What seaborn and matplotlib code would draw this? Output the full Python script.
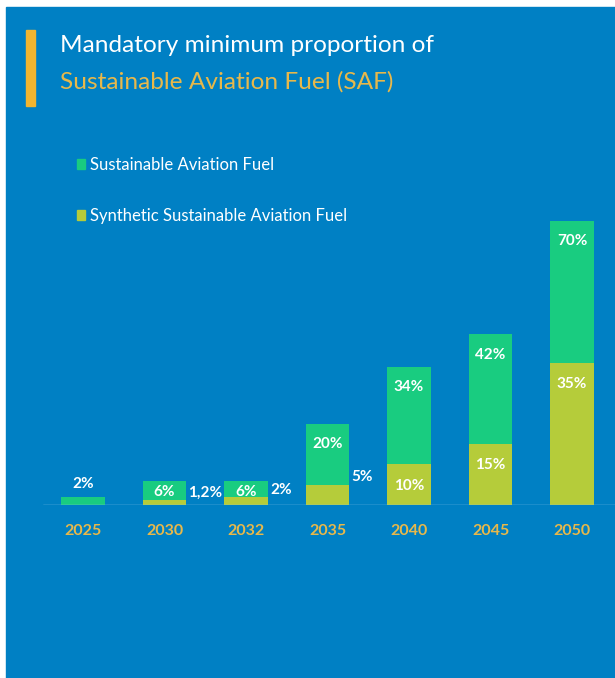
import matplotlib
matplotlib.use('Agg')
import matplotlib.pyplot as plt
import seaborn as sns
import pandas as pd
from matplotlib.patches import Rectangle, Patch

# data
years = ['2025', '2030', '2032', '2035', '2040', '2045', '2050']
saf_total = [2, 6, 6, 20, 34, 42, 70]
synthetic = [0, 1.2, 2, 5, 10, 15, 35]

bg = '#0080c4'
green = '#19cc80'
lime = '#b5cc3a'
gold = '#e8b84a'

sns.set_theme(style='white')
plt.rcParams['font.family'] = ['Lato', 'DejaVu Sans']

df = pd.DataFrame({'year': years, 'total': saf_total, 'synthetic': synthetic})

W, H = 615, 678
fig = plt.figure(figsize=(W / 100, H / 100), dpi=100)
fig.patch.set_facecolor('white')
fig.patches.append(Rectangle((6 / W, 0), 1 - 6 / W, (H - 7) / H,
                             transform=fig.transFigure, color=bg, zorder=-2))
# yellow accent bar next to title
fig.patches.append(Rectangle((26 / W, 1 - 106 / H), 9 / W, 76 / H,
                             transform=fig.transFigure, color='#f2b530', zorder=-1))

fig.text(60 / W, 1 - 46 / H, 'Mandatory minimum proportion of', color='white',
         fontsize=17.6, va='center', ha='left')
fig.text(60 / W, 1 - 82 / H, 'Sustainable Aviation Fuel (SAF)', color=gold,
         fontsize=17.6, va='center', ha='left')

# axes: baseline at y=505px, 4.06 px per percent
ymax = 75
px_per = 4.06
x0, x1 = 43, 615
ax = fig.add_axes([x0 / W, (H - 505) / H, (x1 - x0) / W, ymax * px_per / H])
ax.set_zorder(5)
ax.set_facecolor('none')

sns.barplot(data=df, x='year', y='total', color=green, width=0.53,
            saturation=1, linewidth=0, ax=ax, zorder=2)
sns.barplot(data=df, x='year', y='synthetic', color=lime, width=0.53,
            saturation=1, linewidth=0, ax=ax, zorder=3)

ax.set_xlim((x0 - 83) / 81.5, (x1 - 83) / 81.5)
ax.set_ylim(0, ymax)
ax.axhline(0, color='#8cc4e8', lw=1, zorder=4)
for s in ax.spines.values():
    s.set_visible(False)
ax.set_yticks([])
ax.set_xlabel('')
ax.set_ylabel('')
ax.tick_params(axis='x', length=0, pad=14, labelcolor=gold, labelsize=11.5)
for t in ax.get_xticklabels():
    t.set_fontweight('bold')


def pct(v):
    return f'{v:g}%'.replace('.', ',')


lab = dict(color='white', fontsize=11, fontweight='bold', zorder=5)
for i, (tot, syn) in enumerate(zip(saf_total, synthetic)):
    # total SAF label
    if tot >= 15:
        ax.text(i, tot - 5, pct(tot), ha='center', va='center', **lab)
    elif syn > 0:
        ax.text(i, tot / 2 + 0.3, pct(tot), ha='center', va='center', **lab)
    else:
        ax.text(i, tot + 3.2, pct(tot), ha='center', va='center', **lab)
    # synthetic label
    if syn >= 10:
        ax.text(i, syn - 5.2, pct(syn), ha='center', va='center', **lab)
    elif syn > 0:
        ax.text(i + 0.53 / 2 + 0.03, syn + 1.8, pct(syn), ha='left',
                va='center', **lab)

handles = [Patch(color=green, label='Sustainable Aviation Fuel'),
           Patch(color=lime, label='Synthetic Sustainable Aviation Fuel')]
fig.legend(handles=handles, loc='upper left',
           bbox_to_anchor=(62 / W, 1 - 142 / H), frameon=False,
           labelcolor='white', fontsize=12, handlelength=0.5,
           handleheight=0.5, handletextpad=0.3, labelspacing=2.1)

fig.savefig('out.png', dpi=100, facecolor=fig.get_facecolor())
